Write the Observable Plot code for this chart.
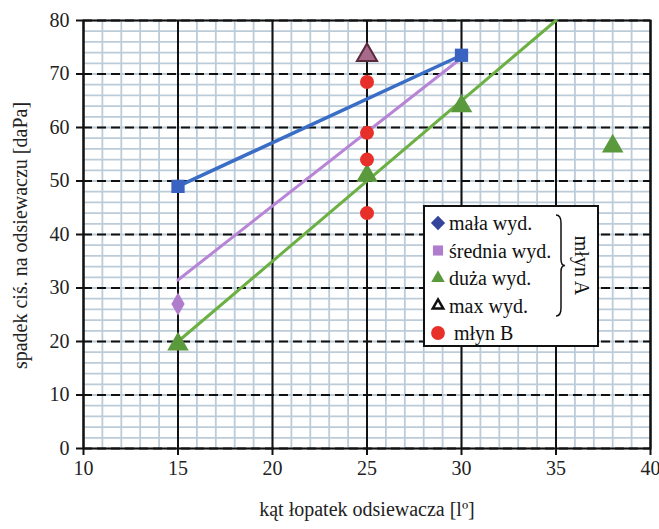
<!DOCTYPE html>
<html>
<head>
<meta charset="utf-8">
<script src="https://cdn.jsdelivr.net/npm/d3@7"></script>
<script src="https://cdn.jsdelivr.net/npm/@observablehq/plot@0.6"></script>
<style>
  html, body { margin: 0; padding: 0; background: #fff; }
  #chart { width: 659px; height: 529px; }
</style>
</head>
<body>
<div id="chart"></div>
<script>
// ---- data ----
const xTicks = [10, 15, 20, 25, 30, 35, 40];
const yTicks = [0, 10, 20, 30, 40, 50, 60, 70, 80];
const xMinor = d3.range(10, 41, 1);
const yMinor = d3.range(0, 81, 2);

const xLabel = "kąt łopatek odsiewacza [lº]";
const yLabel = "spadek ciś. na odsiewaczu [daPa]";

// mała wyd. (blue)
const blueX = [15, 30];
const blueY = [49, 73.5];
// średnia wyd. (purple)
const purplePtX = [15];
const purplePtY = [27];
const purpleLineX = [15, 30];
const purpleLineY = [31.5, 73];
// duża wyd. (green)
const greenPtX = [15, 25, 30, 38];
const greenPtY = [19.5, 51, 64, 56.5];
const greenLineX = [15, 35];
const greenLineY = [20, 80];
// max wyd.
const maxX = [25];
const maxY = [73.5];
// młyn B (red)
const redX = [25, 25, 25, 25];
const redY = [68.5, 59, 54, 44];

const legendLabels = ["mała wyd.", "średnia wyd.", "duża wyd.", "max wyd.", "młyn B"];
const legendSymbols = ["diamond", "square", "triangle", "triangle", "circle"];
const legendFills = ["#33449a", "#b07ccc", "#5a9a3c", "none", "#e8302a"];
const legendStrokes = ["none", "none", "none", "#111", "none"];
const groupLabel = "młyn A";

const zip = (xs, ys) => xs.map((x, i) => ({x, y: ys[i]}));

const blue = zip(blueX, blueY);
const purplePts = zip(purplePtX, purplePtY);
const purpleLine = zip(purpleLineX, purpleLineY);
const greenPts = zip(greenPtX, greenPtY);
const greenLine = zip(greenLineX, greenLineY);
const maxPts = zip(maxX, maxY);
const redPts = zip(redX, redY);

const font = "'Liberation Serif', 'DejaVu Serif', serif";

const chart = Plot.plot({
  width: 659,
  height: 529,
  marginLeft: 83,
  marginRight: 9,
  marginTop: 20,
  marginBottom: 81,
  style: {fontFamily: font, fontSize: "20px", background: "#fff", color: "#222"},
  x: {domain: [10, 40]},
  y: {domain: [0, 80]},
  marks: [
    Plot.ruleX(xMinor, {stroke: "#bccbd8", strokeWidth: 1.8}),
    Plot.ruleY(yMinor, {stroke: "#bccbd8", strokeWidth: 1.8}),
    Plot.ruleY(yTicks, {stroke: "#111", strokeWidth: 2, strokeDasharray: "9,5"}),
    Plot.ruleX(xTicks, {stroke: "#111", strokeWidth: 2}),
    Plot.frame({stroke: "#111", strokeWidth: 2}),
    Plot.axisX({ticks: xTicks, tickSize: 7, tickPadding: 5, tickFormat: d => d, label: null, fontSize: 20, stroke: "#111", strokeWidth: 2}),
    Plot.axisY({ticks: yTicks, tickSize: 7, tickPadding: 7, tickFormat: d => d, label: null, fontSize: 20, stroke: "#111", strokeWidth: 2}),
    Plot.line(greenLine, {x: "x", y: "y", stroke: "#6cb043", strokeWidth: 3}),
    Plot.line(purpleLine, {x: "x", y: "y", stroke: "#b884d6", strokeWidth: 3}),
    Plot.line(blue, {x: "x", y: "y", stroke: "#3a6ec6", strokeWidth: 3.5}),
    Plot.dot(purplePts, {x: "x", y: "y", symbol: "diamond", r: 7, fill: "#b07ccc"}),
    Plot.dot(greenPts, {x: "x", y: "y", symbol: "triangle", r: 8, fill: "#5a9a3c"}),
    Plot.dot(redPts, {x: "x", y: "y", symbol: "circle", r: 7, fill: "#e8302a"}),
    Plot.dot(maxPts, {x: "x", y: "y", symbol: "triangle", r: 7.5, fill: "#a86a8a", stroke: "#5a2a3a", strokeWidth: 2}),
    Plot.dot(blue, {x: "x", y: "y", symbol: "square", r: 7.5, fill: "#3a62c0"}),
    Plot.text([xLabel], {frameAnchor: "bottom", dy: 67, text: d => d, fontSize: 20, fill: "#222", textAnchor: "middle"}),
    Plot.text([yLabel], {frameAnchor: "left", rotate: -90, dx: -63, dy: 1, text: d => d, fontSize: 20, fill: "#222", textAnchor: "middle"})
  ]
});

document.getElementById("chart").appendChild(chart);

// ---- legend ----
const svg = d3.select(chart);
const box = {x: 424, y: 206, w: 174, h: 140};
const lg = svg.append("g").attr("font-family", font).attr("font-size", 20)
  .attr("fill", "#111").attr("text-anchor", "start");
lg.append("rect").attr("x", box.x).attr("y", box.y).attr("width", box.w).attr("height", box.h)
  .attr("fill", "#fff").attr("stroke", "#111").attr("stroke-width", 2);
const rowY = i => box.y + 17 + i * 27.5;
const symMap = {diamond: d3.symbolDiamond2, square: d3.symbolSquare2, triangle: d3.symbolTriangle2, circle: d3.symbolCircle};
legendLabels.forEach((lab, i) => {
  const type = symMap[legendSymbols[i]];
  const open = legendFills[i] === "none";
  const size = legendSymbols[i] === "circle" ? 150 : open ? 80 : 130;
  lg.append("path")
    .attr("d", d3.symbol(type, size)())
    .attr("transform", `translate(${box.x + 14},${rowY(i)})`)
    .attr("fill", legendFills[i])
    .attr("stroke", legendStrokes[i])
    .attr("stroke-width", 2.5);
  lg.append("text").attr("x", box.x + (i === 4 ? 30 : 25)).attr("y", rowY(i)).attr("dy", "0.35em").text(lab);
});
// brace
const bx = 561, by0 = box.y + 9, by1 = box.y + 110, bm = (by0 + by1) / 2;
lg.append("path")
  .attr("d", `M${bx - 5},${by0} Q${bx},${by0} ${bx},${by0 + 8} L${bx},${bm - 6} Q${bx},${bm} ${bx + 4},${bm} Q${bx},${bm} ${bx},${bm + 6} L${bx},${by1 - 8} Q${bx},${by1} ${bx - 5},${by1}`)
  .attr("fill", "none").attr("stroke", "#111").attr("stroke-width", 1.5);
lg.append("text")
  .attr("transform", `translate(${bx + 21},${bm}) rotate(90)`)
  .attr("text-anchor", "middle").attr("dy", "0.35em").text(groupLabel);
</script>
</body>
</html>
